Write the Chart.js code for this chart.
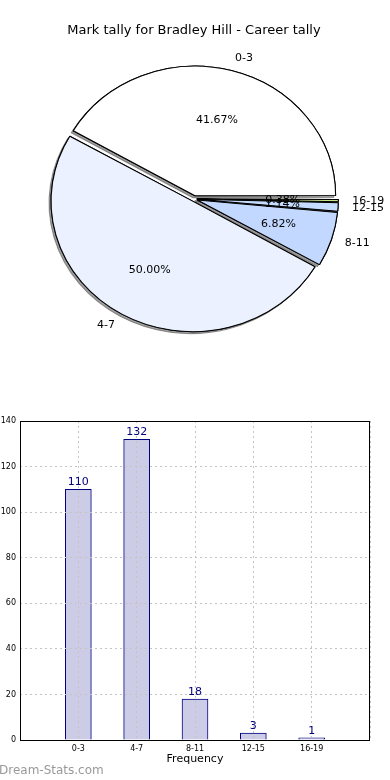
<!DOCTYPE html>
<html>
<head>
<meta charset="utf-8">
<script src="https://cdn.jsdelivr.net/npm/chart.js@4.4.0/dist/chart.umd.min.js"></script>
<style>
  html, body { margin: 0; padding: 0; background: #fff; }
  body { width: 390px; height: 780px; position: relative; overflow: hidden; font-family: 'DejaVu Sans', sans-serif; }
  #pie-wrap { position: absolute; left: 0; top: 0; width: 390px; height: 400px; }
  #bar-wrap { position: absolute; left: 0; top: 400px; width: 390px; height: 380px; }
  #title { position: absolute; left: 0; top: 22px; width: 388px; text-align: center; font-size: 13px; line-height: 16px; color: #000; }
  #mark { position: absolute; left: -1px; top: 762px; font-size: 12px; line-height: 16px; color: #999; }
</style>
</head>
<body>
<div id="pie-wrap"><canvas id="chart-pie"></canvas></div>
<div id="bar-wrap"><canvas id="chart-bar"></canvas></div>
<div id="title">Mark tally for Bradley Hill - Career tally</div>
<div id="mark">Dream-Stats.com</div>
<script>
// data
const categories = ['0-3', '4-7', '8-11', '12-15', '16-19'];
const counts = [110, 132, 18, 3, 1];
const yMax = 140;
const yStep = 20;

// styles
const sliceColors = ['#FFFFFF', '#EBF1FF', '#C3D8FF', '#C6DCFF', '#C9E28C'];
const FONT = "'DejaVu Sans', sans-serif";
const GRID = '#c4c4c4';
const STRETCH_X = 1.085;  // pie is drawn as a slightly wide ellipse
const EXPLODE = 5;        // px each wedge is pulled out

// matplotlib goes counter-clockwise from 3 o'clock, Chart.js clockwise -> reverse
const pieLabels = categories.slice().reverse();
const pieValues = counts.slice().reverse();
const pieColors = sliceColors.slice().reverse();
const total = counts.reduce((a, b) => a + b, 0);
// Chart.js arc offset: shift = offset/4 * (2 - sin(circumference))
const pieOffsets = pieValues.map((v) => {
  const circ = 2 * Math.PI * v / total;
  return 4 * EXPLODE / (2 - Math.sin(Math.min(Math.PI, circ)));
});

const pieDecor = {
  id: 'pieDecor',
  beforeDatasetsDraw(chart) {
    const ctx = chart.ctx;
    const arcs = chart.getDatasetMeta(0).data;
    const cx = arcs[0].x, cy = arcs[0].y;
    ctx.save();
    ctx.translate(cx, cy);
    ctx.scale(STRETCH_X, 1);
    ctx.translate(-cx, -cy);
    // shadow pass, later covered by the normal pass
    ctx.save();
    ctx.shadowColor = 'rgba(77,77,77,0.55)';
    ctx.shadowOffsetX = -2;
    ctx.shadowOffsetY = 2;
    arcs.forEach((a) => a.draw(ctx));
    ctx.restore();
  },
  afterDatasetsDraw(chart) {
    chart.ctx.restore();
  },
  afterDraw(chart) {
    const ctx = chart.ctx;
    const arcs = chart.getDatasetMeta(0).data;
    ctx.save();
    ctx.font = '11px ' + FONT;
    ctx.fillStyle = '#000';
    ctx.textBaseline = 'middle';
    for (let i = arcs.length - 1; i >= 0; i--) {
      const a = arcs[i];
      const mid = (a.startAngle + a.endAngle) / 2;
      const cos = Math.cos(mid), sin = Math.sin(mid);
      const at = (d) => ({
        x: a.x + STRETCH_X * (EXPLODE + d * a.outerRadius) * cos,
        y: a.y + (EXPLODE + d * a.outerRadius) * sin,
      });
      const lp = at(1.1);
      ctx.textAlign = cos >= 0 ? 'left' : 'right';
      ctx.fillText(chart.data.labels[i], lp.x, lp.y);
      const pp = at(0.6);
      ctx.textAlign = 'center';
      ctx.fillText((pieValues[i] / total * 100).toFixed(2) + '%', pp.x, pp.y);
    }
    ctx.restore();
  },
};

new Chart(document.getElementById('chart-pie'), {
  type: 'pie',
  data: {
    labels: pieLabels,
    datasets: [{
      data: pieValues,
      backgroundColor: pieColors,
      borderColor: '#000',
      borderWidth: 1,
      offset: pieOffsets,
      hoverOffset: 0,
    }],
  },
  options: {
    responsive: true,
    maintainAspectRatio: false,
    animation: false,
    events: [],
    rotation: 90,
    radius: 128,
    layout: { padding: { left: 0, right: 2, top: 0, bottom: 2 } },
    plugins: { legend: { display: false }, tooltip: { enabled: false } },
  },
  plugins: [pieDecor],
});

const barDecor = {
  id: 'barDecor',
  afterDraw(chart) {
    const ctx = chart.ctx;
    const { left, top, right, bottom } = chart.chartArea;
    ctx.save();
    ctx.strokeStyle = '#000';
    ctx.lineWidth = 1;
    ctx.strokeRect(Math.round(left) + 0.5, Math.round(top) + 0.5, Math.round(right - left) - 1, Math.round(bottom - top));
    ctx.font = '11px ' + FONT;
    ctx.fillStyle = '#000080';
    ctx.textAlign = 'center';
    ctx.textBaseline = 'alphabetic';
    chart.getDatasetMeta(0).data.forEach((bar, i) => {
      ctx.fillText(String(counts[i]), bar.x, bar.y - 4);
    });
    ctx.restore();
  },
};

new Chart(document.getElementById('chart-bar'), {
  type: 'bar',
  data: {
    datasets: [{
      data: counts.map((v, i) => ({ x: i, y: v })),
      backgroundColor: '#CCCCE6',
      borderColor: '#000080',
      borderWidth: 1,
      barThickness: 26,
    }],
  },
  options: {
    responsive: true,
    maintainAspectRatio: false,
    animation: false,
    events: [],
    layout: { padding: { left: 0, right: 20, top: 21, bottom: 14 } },
    plugins: { legend: { display: false }, tooltip: { enabled: false } },
    scales: {
      x: {
        type: 'linear',
        min: -1,
        max: categories.length,
        offset: false,
        afterFit: (s) => { s.height = 26; },
        ticks: {
          stepSize: 1, padding: 4, color: '#000', font: { family: FONT, size: 8 },
          autoSkip: false, maxRotation: 0,
          callback: (v) => categories[v] ?? '',
        },
        grid: { color: GRID, z: 1, drawTicks: false, offset: false },
        border: { display: false, dash: [2, 3] },
        title: { display: true, text: 'Frequency', color: '#000', font: { family: FONT, size: 11 }, padding: 0 },
      },
      y: {
        min: 0,
        max: yMax,
        afterFit: (s) => { s.width = 20; },
        ticks: { stepSize: yStep, padding: 4, color: '#000', font: { family: FONT, size: 8 } },
        grid: { color: GRID, z: 1, drawTicks: false },
        border: { display: false, dash: [2, 3] },
      },
    },
  },
  plugins: [barDecor],
});
</script>
</body>
</html>
